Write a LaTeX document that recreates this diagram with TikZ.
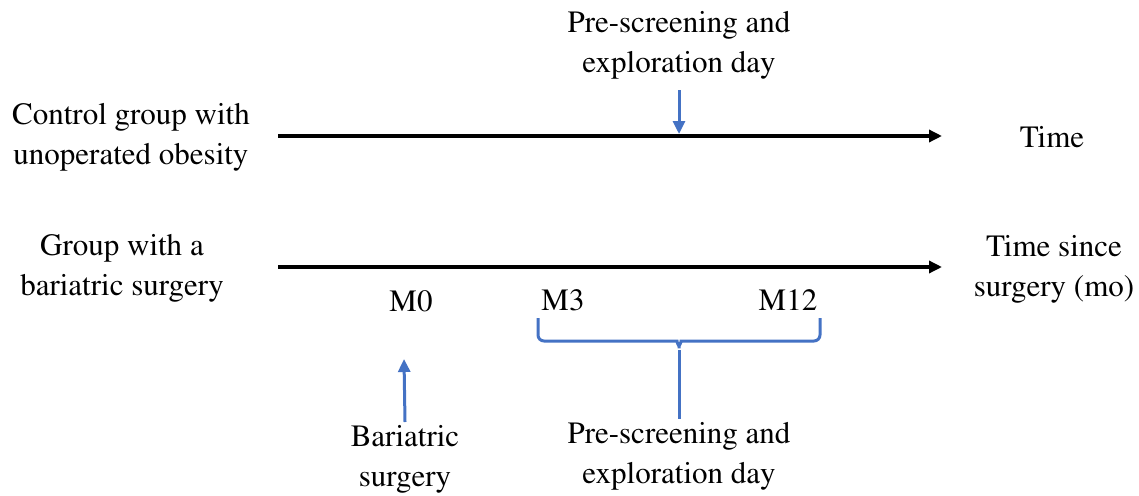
\documentclass[tikz,border=0pt]{standalone}
\usepackage[T1]{fontenc}
\usepackage{times}
\usetikzlibrary{calc,arrows.meta}
\definecolor{wordblue}{RGB}{68,114,196}

\begin{document}
\begin{tikzpicture}[x=1pt, y=-1pt, >={Triangle[length=13pt, width=12pt]},
    font=\fontsize{31}{40}\selectfont]
    \useasboundingbox (0,0) rectangle (1139,495);

    % time lines
    \coordinate (TopStart) at (278,136);
    \coordinate (TopEnd) at (942,136);
    \coordinate (BotStart) at (278,267);
    \coordinate (BotEnd) at (942,267);
    \draw [line width=3.5pt, ->] (TopStart) -- (TopEnd);
    \draw [line width=3.5pt, ->] (BotStart) -- (BotEnd);

    % labels on the left and right
    \node [align=center] (Control) at (131,137) {Control group with\\unoperated obesity};
    \node [align=center] (Bariatric) at (122,268) {Group with a\\bariatric surgery};
    \node (Time) at (1052,137) {Time};
    \node [align=center] (TimeSince) at (1054,269) {Time since\\surgery (mo)};

    % control group exploration day
    \node [align=center] (ExploTop) at (679,45) {Pre-screening and\\exploration day};
    \coordinate (ExploTopTip) at (679,134);
    \draw [wordblue, line width=3pt, ->] (679,90) -- (ExploTopTip);

    % months
    \node (M0) at (411,301) {M0};
    \node (M3) at (563,300) {M3};
    \node (M12) at (788,300) {M12};

    % bariatric surgery at M0
    \node [align=center, anchor=north] (Surgery) at (405,422) {Bariatric\\surgery};
    \draw [wordblue, line width=3pt, ->] (Surgery.north) -- (404,359);

    % bracket M3 to M12
    \node [align=center, anchor=north] (ExploBot) at (679,419) {Pre-screening and\\exploration day};
    \draw [wordblue, line width=3pt, rounded corners=6pt]
        (538,318) -- (538,341) -- (671,341)
        to[out=0, in=90] (679,352) to[out=90, in=180] (687,341)
        -- (820,341) -- (820,318);
    \draw [wordblue, line width=3pt] (679,350) -- (ExploBot.north);

\end{tikzpicture}
\end{document}
